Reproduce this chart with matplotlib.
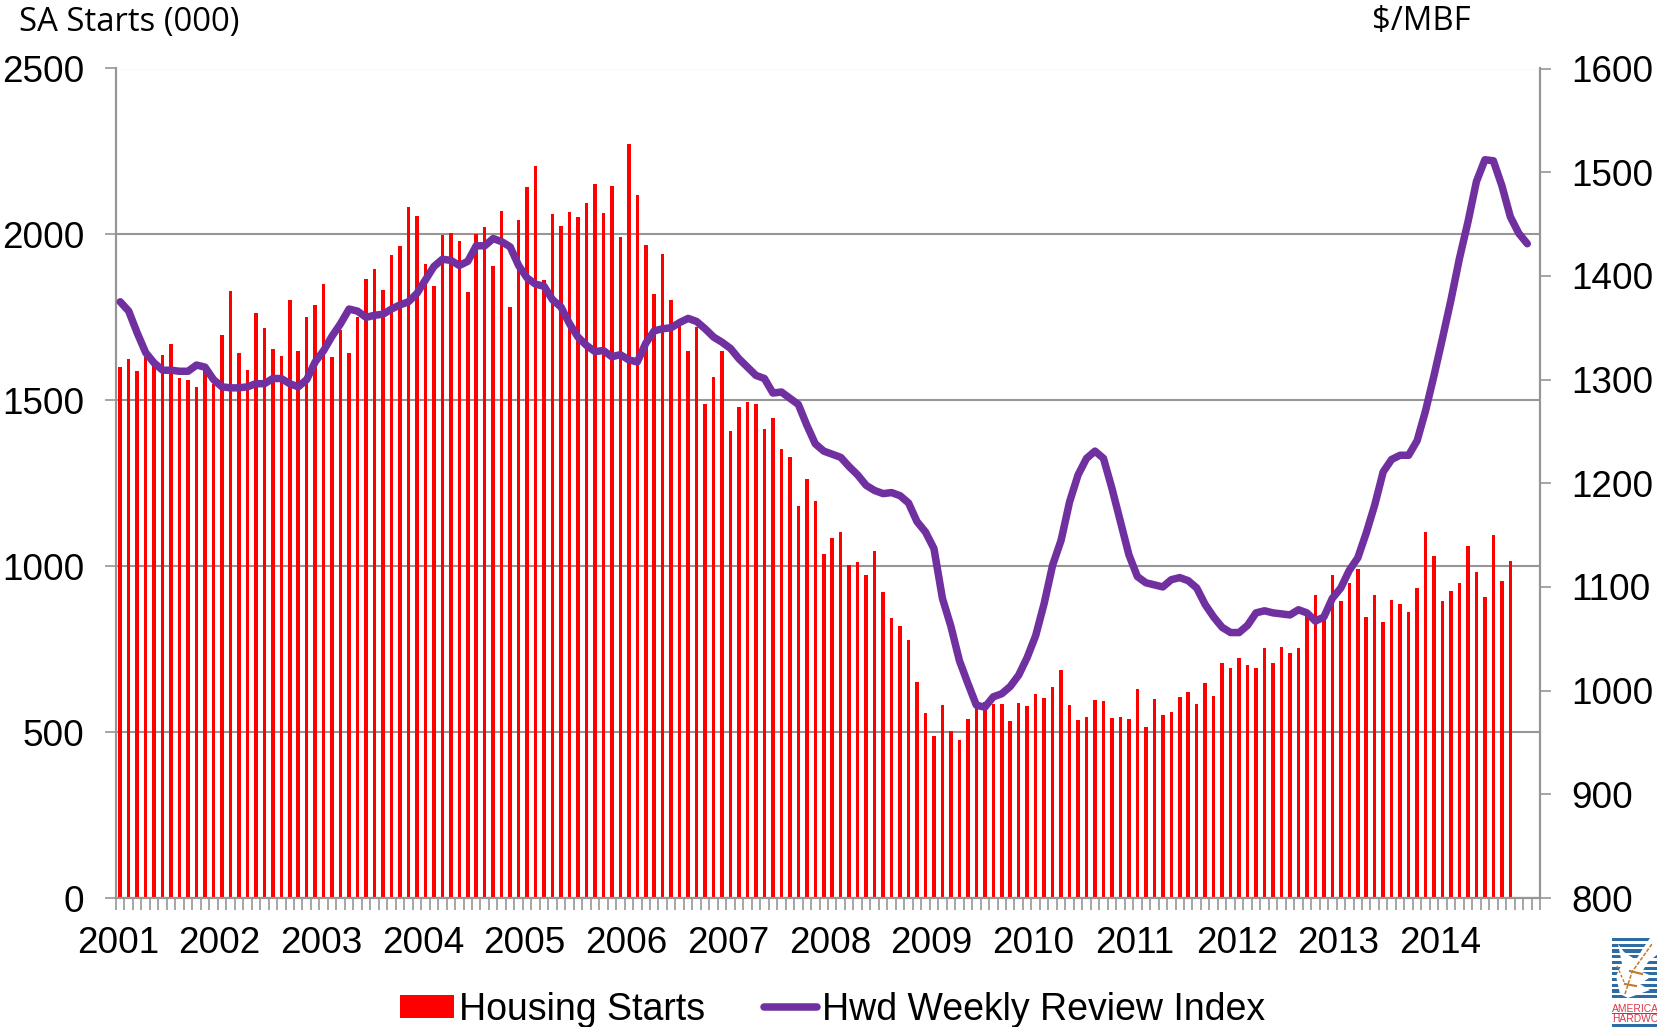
import matplotlib
matplotlib.use("Agg")
import matplotlib.pyplot as plt
from matplotlib.patches import Rectangle, Polygon

years = ["2001", "2002", "2003", "2004", "2005", "2006", "2007",
         "2008", "2009", "2010", "2011", "2012", "2013", "2014"]

# monthly, from Jan 2001
housing_starts = [
    1599, 1623, 1589, 1632, 1605, 1636, 1669, 1566, 1561, 1539, 1590, 1550,
    1697, 1828, 1642, 1591, 1763, 1717, 1655, 1633, 1803, 1648, 1752, 1788,
    1852, 1629, 1712, 1642, 1750, 1865, 1897, 1832, 1938, 1966, 2082, 2056,
    1911, 1845, 1997, 2003, 1981, 1827, 2002, 2023, 1905, 2071, 1781, 2042,
    2144, 2206, 1862, 2060, 2024, 2067, 2053, 2094, 2151, 2064, 2147, 1993,
    2273, 2118, 1968, 1821, 1942, 1802, 1724, 1650, 1720, 1490, 1569, 1649,
    1408, 1479, 1494, 1488, 1415, 1448, 1352, 1328, 1182, 1263, 1196, 1037,
    1084, 1103, 1005, 1013, 973, 1046, 921, 843, 819, 777, 650, 559,
    489, 581, 504, 477, 539, 585, 592, 585, 584, 534, 587, 580,
    614, 603, 635, 686, 581, 536, 546, 598, 593, 543, 545, 539,
    629, 516, 599, 553, 561, 607, 622, 584, 649, 609, 709, 693,
    722, 703, 694, 752, 707, 756, 738, 752, 855, 914, 838, 974,
    895, 949, 992, 846, 914, 831, 897, 885, 862, 935, 1103, 1032,
    896, 926, 948, 1060, 982, 908, 1095, 954, 1015,
]

hwd_index = [
    1375, 1366, 1345, 1326, 1316, 1309, 1309, 1308, 1308, 1314, 1312, 1300,
    1293, 1292, 1292, 1293, 1296, 1296, 1301, 1301, 1296, 1293, 1300, 1317,
    1328, 1342, 1354, 1368, 1366, 1360, 1362, 1363, 1368, 1372, 1375, 1383,
    1396, 1409, 1416, 1415, 1410, 1414, 1429, 1429, 1436, 1433, 1428, 1410,
    1398, 1392, 1390, 1377, 1370, 1354, 1341, 1333, 1327, 1328, 1322, 1324,
    1319, 1317, 1335, 1347, 1349, 1350, 1355, 1359, 1356, 1349, 1341, 1336,
    1330, 1320, 1312, 1304, 1301, 1287, 1288, 1282, 1276, 1256, 1238, 1231,
    1228, 1225, 1216, 1208, 1198, 1193, 1190, 1191, 1188, 1181, 1163, 1153,
    1137, 1089, 1062, 1029, 1007, 986, 984, 994, 997, 1004, 1015, 1032,
    1053, 1084, 1121, 1145, 1182, 1208, 1224, 1231, 1224, 1195, 1163, 1131,
    1110, 1104, 1102, 1100, 1107, 1109, 1106, 1099, 1083, 1071, 1061, 1056,
    1056, 1063, 1075, 1077, 1075, 1074, 1073, 1078, 1075, 1067, 1071, 1089,
    1099, 1116, 1128, 1152, 1179, 1211, 1223, 1227, 1227, 1241, 1270, 1304,
    1340, 1377, 1417, 1452, 1491, 1512, 1511, 1487, 1457, 1441, 1431,
]

left_ticks = [0, 500, 1000, 1500, 2000, 2500]
right_ticks = [800, 900, 1000, 1100, 1200, 1300, 1400, 1500, 1600]

GRAY = "#969696"
W, H = 1658, 1027

plt.rcParams["font.family"] = ["Liberation Sans", "DejaVu Sans"]

fig = plt.figure(figsize=(W / 100, H / 100), dpi=100)
ax = fig.add_axes([116 / W, 1 - 898 / H, (1540 - 116) / W, (898 - 68.5) / H])

bars = ax.bar(range(len(housing_starts)), housing_starts, width=0.42,
              color="#ff0000", label="Housing Starts", zorder=3)
ax.set_xlim(-0.5, 167.5)
ax.set_ylim(0, 2500)
ax.set_yticks(left_ticks)
ax.yaxis.grid(True, color=GRAY, linewidth=1.5, zorder=1)
ax.set_axisbelow(True)

ax.set_xticks([m - 0.5 for m in range(169)])
ax.set_xticklabels([])
ax.set_xticks([12 * k - 0.28 for k in range(len(years))], minor=True)
ax.set_xticklabels(years, minor=True)
ax.tick_params(axis="x", which="major", length=8.5, width=1.2, color=GRAY)
ax.tick_params(axis="x", which="minor", length=0, pad=20, labelsize=26.6)
ax.tick_params(axis="y", length=8, width=1.2, color=GRAY, pad=15, labelsize=26.6)

ax2 = ax.twinx()
line, = ax2.plot(range(len(hwd_index)), hwd_index, color="#7030a0", linewidth=5.4,
                 solid_joinstyle="round", solid_capstyle="round",
                 label="Hwd Weekly Review Index", zorder=5)
ax2.set_ylim(800, 1600)
ax2.set_yticks(right_ticks)
ax2.tick_params(axis="y", length=8, width=1.2, color=GRAY, pad=14.5, labelsize=26.6)

for a in (ax, ax2):
    for side in a.spines:
        a.spines[side].set_color(GRAY)
        a.spines[side].set_linewidth(1.5)
    a.spines["top"].set_visible(False)

fig.text(19 / W, 1 - 22 / H, "SA Starts (000)", family="Open Sans", fontsize=23.7, va="center")
fig.text(1372 / W, 1 - 22 / H, "$/MBF", family="Open Sans", fontsize=23.7, va="center")

leg = fig.legend(handles=[bars, line], loc="lower left", bbox_to_anchor=(393 / W, -8 / H),
                 ncol=2, frameon=False, fontsize=27, handlelength=1.42, handleheight=0.55,
                 handletextpad=0.15, columnspacing=1.55, borderaxespad=0, borderpad=0.2)

# logo, bottom right corner
BLUE = "#2e6da4"
TWIG = "#c07a2a"
logo = fig.add_axes([1612 / W, 0, 46 / W, 89 / H])
logo.set_xlim(0, 46)
logo.set_ylim(89, 0)
logo.axis("off")
for k in range(11):
    logo.add_patch(Rectangle((0, 5.7 * k), 46, 3.2, color=BLUE, lw=0))
logo.add_patch(Polygon([(6, 6), (12, 14), (24, 22), (30, 12), (38, 0), (46, 0), (46, 16), (36, 24), (30, 34),
                        (40, 38), (28, 46), (38, 52), (16, 60), (8, 56), (4, 38), (10, 26)],
                       color="white", lw=0))
logo.add_patch(Rectangle((0, 75), 46, 1.4, color=BLUE, lw=0))
logo.add_patch(Rectangle((0, 86), 46, 3, color=BLUE, lw=0))
logo.plot([13, 20, 30, 40], [56, 34, 20, 6], color=TWIG, linewidth=1.1, linestyle=(0, (2.5, 1)))
logo.plot([18, 30], [33, 36], color=TWIG, linewidth=1.5)
logo.plot([13, 24], [46, 48], color=TWIG, linewidth=1.5)
logo.plot([5, 13], [28, 46], color=TWIG, linewidth=1.0, linestyle=(0, (2, 1.5)))
logo.text(0.3, 70.5, "AMERICAN", color="#d8394a", fontsize=7.4, va="center", clip_on=False)
logo.text(0.3, 81, "HARDWOOD", color="#d8394a", fontsize=7.4, va="center", clip_on=False)

fig.savefig("out.png", dpi=100)
